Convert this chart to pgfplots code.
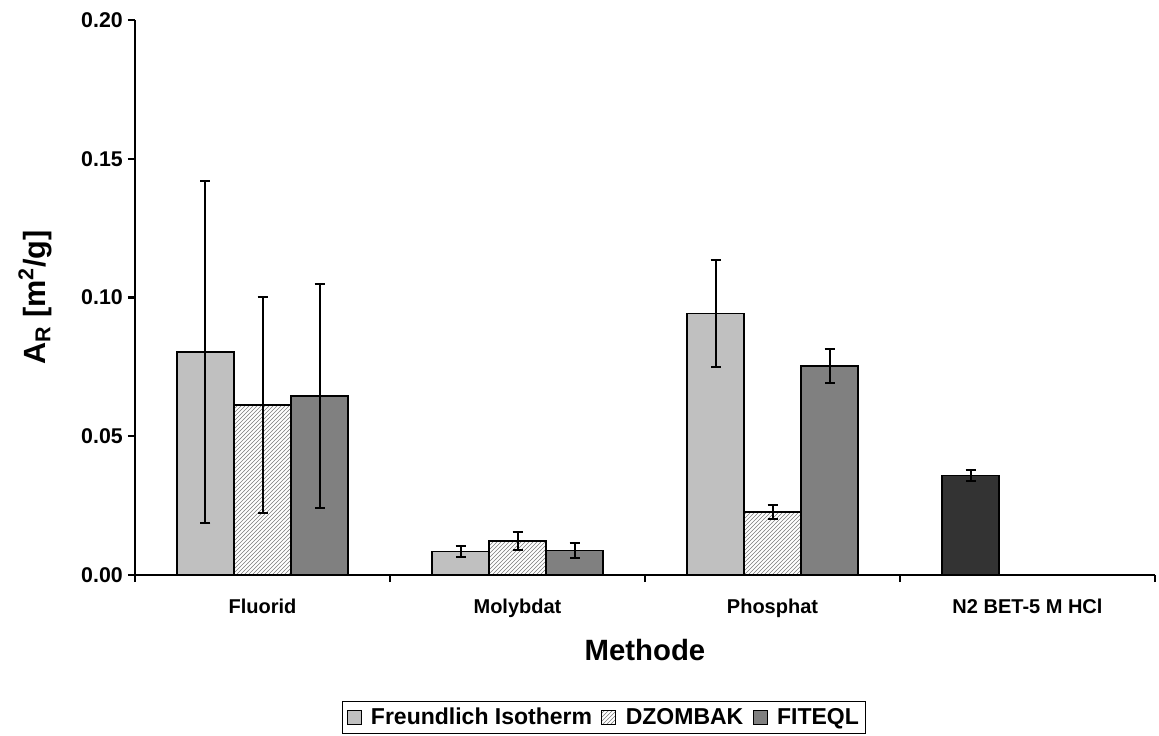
\documentclass[border=0pt]{standalone}
\usepackage{fontspec}
\setmainfont{Liberation Sans}
\usepackage{pgfplots}
\pgfplotsset{compat=1.18}
\usetikzlibrary{patterns}
\definecolor{cF}{HTML}{C0C0C0}
\definecolor{cT}{HTML}{808080}
\definecolor{cN}{HTML}{333333}
\definecolor{cH}{HTML}{7A7A7A}
\begin{document}
\begin{tikzpicture}
\begin{axis}[
  scale only axis, width=765pt, height=416.25pt,
  ybar, bar width=42.75pt,
  xmin=-0.5, xmax=3.5, ymin=0, ymax=0.2,
  axis x line*=bottom, axis y line*=left,
  axis line style={line width=1.6pt, -},
  xtick={-0.5,0.5,1.5,2.5,3.5}, xticklabels={},
  extra x ticks={0,1,2,3},
  extra x tick labels={Fluorid,Molybdat,Phosphat,N2 BET-5 M HCl},
  extra x tick style={major tick length=0pt},
  ytick={0,0.05,0.1,0.15,0.2},
  scaled y ticks=false,
  tick align=outside, major tick length=5.25pt,
  tick style={line width=1.6pt, black},
  x tick label style={font=\fontsize{15}{18}\selectfont\bfseries, anchor=base, yshift=-28.5pt},
  y tick label style={font=\fontsize{16}{19}\selectfont\bfseries, /pgf/number format/fixed, /pgf/number format/fixed zerofill, /pgf/number format/precision=2, /pgf/number format/assume math mode=true, anchor=east, inner sep=0pt, xshift=-3.75pt},
  xlabel={Methode},
  xlabel style={at={(axis description cs:0.5,-0.135)}, anchor=center, font=\fontsize{22}{26}\selectfont\bfseries},
  ylabel={A\textsubscript{R} [m\textsuperscript{2}/g]},
  ylabel style={at={(axis description cs:-0.098,0.5)}, anchor=center, font=\fontsize{23}{27}\selectfont\bfseries},
  legend columns=3,
  legend style={at={(axis description cs:0.203,-0.227)}, anchor=north west, draw=black, line width=0.8pt,
    font=\fontsize{17.25}{20}\selectfont\bfseries, inner xsep=3pt, inner ysep=3pt,
    /tikz/every odd column/.append style={column sep=5pt},
    /tikz/every even column/.append style={column sep=5pt}, nodes={inner sep=2pt}},
  legend image code/.code={\draw[#1, line width=0.8pt] (0pt,-5.25pt) rectangle (10.5pt,5.25pt);},
  error bars/y dir=both, error bars/y explicit,
  error bars/error bar style={line width=1.5pt, black},
  error bars/error mark options={rotate=90, mark size=3.75pt, line width=1.5pt, black},
]
\addplot[fill=cF, draw=black, line width=1.1pt, bar shift=-42.75pt] coordinates {
  (0,0.0804) +- (0,0.0617)
  (1,0.0084) +- (0,0.0020)
  (2,0.0943) +- (0,0.0192)
};
\addlegendentry{Freundlich Isotherm}
\addplot[pattern=north east lines, pattern color=cH, draw=black, line width=1.1pt, bar shift=0pt] coordinates {
  (0,0.0613) +- (0,0.0389)
  (1,0.0122) +- (0,0.0033)
  (2,0.0227) +- (0,0.0025)
};
\addlegendentry{DZOMBAK}
\addplot[fill=cT, draw=black, line width=1.1pt, bar shift=42.75pt] coordinates {
  (0,0.0645) +- (0,0.0404)
  (1,0.0089) +- (0,0.0028)
  (2,0.0753) +- (0,0.0062)
};
\addlegendentry{FITEQL}
\addplot[fill=cN, draw=black, line width=1.1pt, bar shift=-42.75pt, forget plot] coordinates {
  (3,0.0358) +- (0,0.0021)
};
\end{axis}
\pgfresetboundingbox
\path[use as bounding box] (-101.25pt,-120pt) rectangle (768pt,431.25pt);
\end{tikzpicture}
\end{document}
